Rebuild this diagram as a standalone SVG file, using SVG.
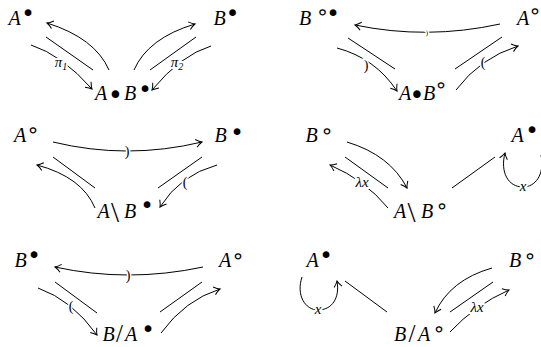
<svg xmlns="http://www.w3.org/2000/svg" width="541" height="347" viewBox="0 0 541 347">
<style>
.m{font-family:"Liberation Serif","Times New Roman",serif;font-style:italic;font-size:20px;text-anchor:middle;fill:#000}
.u{font-style:normal}
.s{font-family:"DejaVu Sans",sans-serif;font-style:normal;font-size:23px}
.r{font-family:"DejaVu Sans",sans-serif;font-style:normal;font-size:21px}
.b{font-family:"DejaVu Sans",sans-serif;font-style:normal;font-size:26px}
.l{font-family:"Liberation Serif","Times New Roman",serif;font-style:italic;font-size:15px;text-anchor:middle;fill:#000;stroke:#fff;stroke-width:4px;paint-order:stroke}
.k{font-family:"Liberation Serif","Times New Roman",serif;font-size:14px;text-anchor:middle;fill:#000;stroke:#fff;stroke-width:3px;paint-order:stroke}
.e path{fill:none;stroke:#000;stroke-width:1}
.a{marker-end:url(#ah)}
</style>
<defs>
<marker id="ah" viewBox="-7 -5 8 10" markerWidth="8" markerHeight="10" refX="0" refY="0" orient="auto" markerUnits="userSpaceOnUse">
<path d="M-6,-4 Q-2.5,-1 0,0 Q-2.5,1 -6,4" fill="none" stroke="#000" stroke-width="1"/>
</marker>
</defs>
<rect width="541" height="347" fill="#fff"/>
<g id="edges" class="e">
<!-- panel 1 -->
<path class="a" d="M109,70 Q95,38 47,23"/>
<path d="M46,37 L93,70"/>
<path class="a" d="M31,45 Q62,55 92,89"/>
<path class="a" d="M134,70 Q148,38 195,24"/>
<path d="M150,70 L196,37"/>
<path class="a" d="M211,46 Q181,55 152,90"/>
<!-- panel 2 -->
<path class="a" d="M500,24 Q427,40 355,25"/>
<path d="M348,38 L395,69"/>
<path class="a" d="M337,48 Q375,58 397,91"/>
<path d="M455,69 L502,37"/>
<path class="a" d="M456,90 Q480,58 518,46"/>
<!-- panel 3 -->
<path class="a" d="M53,142 Q127,160 202,142"/>
<path class="a" d="M95,208 Q82,177 37,165"/>
<path d="M53,157 L95,188"/>
<path d="M158,188 L202,157"/>
<path class="a" d="M217,165 Q180,175 160,207"/>
<!-- panel 4 -->
<path class="a" d="M347,142 Q390,155 407,188"/>
<path d="M345,157 L388,188"/>
<path class="a" d="M388,208 Q365,180 330,165"/>
<path d="M452,188 L495,157"/>
<path class="a" d="M541,155 C545,175 535,187 523,187 C508,187 500,172 505,153"/>
<!-- panel 5 -->
<path class="a" d="M203,267 Q128,283 55,267"/>
<path class="a" d="M38,288 Q72,300 97,335"/>
<path d="M55,282 L97,313"/>
<path d="M160,312 L202,282"/>
<path class="a" d="M161,333 Q185,300 220,289"/>
<!-- panel 6 -->
<path class="a" d="M302,277 C296,295 305,310 318,310 C332,310 340,298 337,281"/>
<path d="M345,281 L387,312"/>
<path class="a" d="M492,268 Q450,280 435,313"/>
<path d="M450,312 L493,282"/>
<path class="a" d="M450,332 Q475,305 509,290"/>
</g>
<g id="edge-labels">
<text class="l" x="61" y="67">π<tspan style="font-size:10px" dy="3">1</tspan></text>
<text class="l" x="177" y="67">π<tspan style="font-size:10px" dy="3">2</tspan></text>
<text class="k" x="427" y="35" style="font-size:7px">)</text>
<text class="k" x="366" y="70">)</text>
<text class="k" x="483" y="67">(</text>
<text class="k" x="127" y="156">)</text>
<text class="k" x="185" y="187">(</text>
<text class="l" x="362" y="187">λx</text>
<text class="l" x="523" y="191">x</text>
<text class="k" x="128" y="280">)</text>
<text class="k" x="71" y="311">(</text>
<text class="l" x="318" y="314">x</text>
<text class="l" x="477" y="312">λx</text>
</g>
<!-- panel 1 nodes -->
<g id="p1-A"><text class="m" y="25"><tspan x="14.5">A</tspan><tspan class="s" x="28" y="21">•</tspan></text></g>
<g id="p1-B"><text class="m" y="25"><tspan x="219.5">B</tspan><tspan class="s" x="232.5" y="21">•</tspan></text></g>
<g id="p1-AB"><text class="m" y="100"><tspan x="101">A</tspan><tspan class="b" x="115.5" y="103.5">•</tspan><tspan x="130" y="100">B</tspan><tspan class="s" x="145" y="96.5">•</tspan></text></g>
<!-- panel 2 nodes -->
<g id="p2-B"><text class="m" y="25"><tspan x="305">B</tspan><tspan class="r" x="322.5" y="19">∘</tspan><tspan class="s" x="333" y="21">•</tspan></text></g>
<g id="p2-A"><text class="m" y="25"><tspan x="523">A</tspan><tspan class="r" x="535" y="18">∘</tspan></text></g>
<g id="p2-AB"><text class="m" y="100"><tspan x="405">A</tspan><tspan class="b" x="417" y="103.5">•</tspan><tspan x="429" y="100">B</tspan><tspan class="r" x="441" y="92">∘</tspan></text></g>
<!-- panel 3 nodes -->
<g id="p3-A"><text class="m" y="142"><tspan x="20">A</tspan><tspan class="r" x="33" y="137">∘</tspan></text></g>
<g id="p3-B"><text class="m" y="142"><tspan x="220.5">B</tspan><tspan class="s" x="237" y="139.5">•</tspan></text></g>
<g id="p3-AB"><text class="m" y="218"><tspan x="103.5">A</tspan><tspan class="u" x="115" style="font-size:29px" y="222">\</tspan><tspan x="130" y="218">B</tspan><tspan class="s" x="147" y="213">•</tspan></text></g>
<!-- panel 4 nodes -->
<g id="p4-B"><text class="m" y="142"><tspan x="311.5">B</tspan><tspan class="r" x="327" y="138">∘</tspan></text></g>
<g id="p4-A"><text class="m" y="142"><tspan x="517.5">A</tspan><tspan class="s" x="532" y="138">•</tspan></text></g>
<g id="p4-AB"><text class="m" y="218"><tspan x="400">A</tspan><tspan class="u" x="411.5" style="font-size:29px" y="222">\</tspan><tspan x="427" y="218">B</tspan><tspan class="r" x="442" y="213">∘</tspan></text></g>
<!-- panel 5 nodes -->
<g id="p5-B"><text class="m" y="267"><tspan x="20.5">B</tspan><tspan class="s" x="34" y="263">•</tspan></text></g>
<g id="p5-A"><text class="m" y="267"><tspan x="225">A</tspan><tspan class="r" x="238" y="263">∘</tspan></text></g>
<g id="p5-BA"><text class="m" y="341"><tspan x="108.5">B</tspan><tspan class="u" x="119.5" style="font-size:25px" y="342">/</tspan><tspan x="131" y="341">A</tspan><tspan class="s" x="148" y="337">•</tspan></text></g>
<!-- panel 6 nodes -->
<g id="p6-A"><text class="m" y="267"><tspan x="312.5">A</tspan><tspan class="s" x="326" y="263">•</tspan></text></g>
<g id="p6-B"><text class="m" y="267"><tspan x="515">B</tspan><tspan class="r" x="530" y="263">∘</tspan></text></g>
<g id="p6-BA"><text class="m" y="341"><tspan x="400">B</tspan><tspan class="u" x="412" style="font-size:25px" y="342">/</tspan><tspan x="424" y="341">A</tspan><tspan class="r" x="439" y="336">∘</tspan></text></g>
</svg>
